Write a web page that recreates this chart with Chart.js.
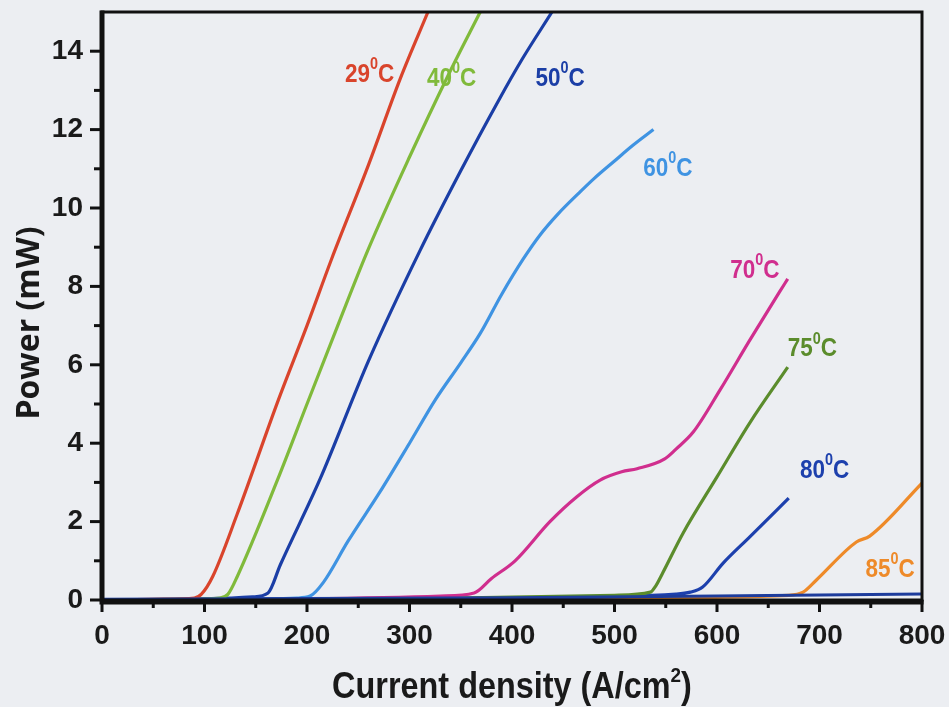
<!DOCTYPE html>
<html>

<head>
    <meta charset="UTF-8">
    <title>Power vs current density</title>
    <script src="https://cdn.jsdelivr.net/npm/chart.js@4.4.1/dist/chart.umd.min.js"></script>
    <style>
        html, body { margin: 0; padding: 0; background: #eceef2; }
    </style>
</head>

<body>
    <canvas id="chart" width="949" height="707"></canvas>
    <script>
        // curves: current density (A/cm2) -> power (mW)
        const x29 = [0, 60, 90, 97, 108, 132, 172, 200, 224, 260, 291, 318];
        const y29 = [0, 0.02, 0.05, 0.15, 0.6, 2.2, 5.1, 7.0, 8.7, 11.1, 13.3, 15.0];
        const x40 = [0, 80, 115, 123, 132, 171, 200, 230, 259, 300, 338, 369];
        const y40 = [0, 0.02, 0.05, 0.15, 0.6, 3.05, 5.0, 7.0, 8.9, 11.3, 13.4, 15.0];
        const x50 = [0, 100, 147, 162, 174, 213, 260, 310, 350, 386, 410, 439];
        const y50 = [0, 0.03, 0.08, 0.18, 0.9, 3.1, 6.1, 8.9, 10.95, 12.7, 13.8, 15.0];
        const x60 = [0, 120, 190, 203, 216, 240, 271, 300, 325, 350, 369, 390, 411, 427, 445, 466, 480, 500, 518, 538];
        const y60 = [0, 0.02, 0.05, 0.1, 0.45, 1.5, 2.75, 4.0, 5.1, 6.05, 6.8, 7.8, 8.7, 9.3, 9.85, 10.4, 10.75, 11.2, 11.6, 12.0];
        const x70 = [0, 200, 330, 363, 380, 403, 437, 463, 486, 507, 522, 549, 560, 577, 603, 632, 661, 669];
        const y70 = [0, 0.03, 0.1, 0.18, 0.55, 1.0, 2.0, 2.63, 3.06, 3.27, 3.35, 3.6, 3.85, 4.29, 5.36, 6.63, 7.86, 8.19];
        const x75 = [0, 300, 500, 535, 540, 547, 567, 600, 632, 669];
        const y75 = [0, 0.03, 0.12, 0.2, 0.35, 0.69, 1.71, 3.14, 4.52, 5.94];
        const x80 = [0, 400, 560, 574, 586, 606, 632, 670];
        const y80 = [0, 0.05, 0.15, 0.2, 0.33, 0.94, 1.61, 2.6];
        const x85 = [0, 500, 670, 684, 697, 736, 749, 800];
        const y85 = [0, 0.05, 0.12, 0.2, 0.51, 1.48, 1.63, 2.98];
        const xBase = [0, 400, 600, 800];
        const yBase = [0.02, 0.06, 0.1, 0.15];

        const temps = ['29', '40', '50', '60', '70', '75', '80', '85'];
        const colors = ['#d9442c', '#80ba3b', '#1b3ea6', '#3f93e2', '#d02e8e', '#5b8c2c', '#1d40ad', '#ee8a29'];
        const labelX = [261, 341, 447, 552, 637, 693, 705, 769];
        const labelY = [13.4, 13.3, 13.3, 11.0, 8.4, 6.4, 3.3, 0.77];

        const xTicks = [0, 100, 200, 300, 400, 500, 600, 700, 800];
        const yTicks = [0, 2, 4, 6, 8, 10, 12, 14];

        function pts(xs, ys) {
            return xs.map((x, i) => ({ x: x, y: ys[i] }));
        }

        const curves = [[x29, y29], [x40, y40], [x50, y50], [x60, y60], [x70, y70], [x75, y75], [x80, y80], [x85, y85]];
        const datasets = [{
            label: 'base',
            data: pts(xBase, yBase),
            borderColor: '#1d3c9c',
            borderWidth: 3,
            pointRadius: 0,
            fill: false
        }];
        curves.forEach((c, i) => {
            datasets.push({
                label: temps[i] + '°C',
                data: pts(c[0], c[1]),
                borderColor: colors[i],
                borderWidth: 3.2,
                pointRadius: 0,
                cubicInterpolationMode: 'monotone',
                fill: false
            });
        });

        const sans = '"Liberation Sans", Arial, sans-serif';

        // write text squeezed sideways, the original uses a narrow face
        function squeezed(ctx, parts, cx, cy, squeeze) {
            let total = 0;
            parts.forEach(p => { ctx.font = p.font; p.w = ctx.measureText(p.text).width; total += p.w; });
            ctx.save();
            ctx.translate(cx, cy);
            ctx.scale(squeeze, 1);
            let x = -total / 2;
            ctx.textAlign = 'left';
            ctx.textBaseline = 'middle';
            parts.forEach(p => {
                ctx.font = p.font;
                ctx.fillText(p.text, x, p.dy || 0);
                x += p.w;
            });
            ctx.restore();
        }

        // background, frame, tick marks and the curve labels
        const decor = {
            id: 'decor',
            beforeDraw(chart) {
                const ctx = chart.ctx;
                ctx.save();
                ctx.fillStyle = '#eceef2';
                ctx.fillRect(0, 0, chart.width, chart.height);
                ctx.restore();
            },
            afterDatasetsDraw(chart) {
                const ctx = chart.ctx;
                const a = chart.chartArea;
                const xs = chart.scales.x, ys = chart.scales.y;

                // labels like 29⁰C
                temps.forEach((t, i) => {
                    ctx.fillStyle = colors[i];
                    squeezed(ctx, [
                        { text: t, font: 'bold 25px ' + sans },
                        { text: '0', font: 'bold 16px ' + sans, dy: -10 },
                        { text: 'C', font: 'bold 25px ' + sans }
                    ], xs.getPixelForValue(labelX[i]), ys.getPixelForValue(labelY[i]), 0.9);
                });

                ctx.save();
                ctx.strokeStyle = '#111';
                ctx.lineCap = 'butt';
                // ticks
                ctx.lineWidth = 3;
                for (let v = 0; v <= 800; v += 50) {
                    const p = xs.getPixelForValue(v);
                    const len = v % 100 === 0 ? 10 : 6;
                    ctx.beginPath();
                    ctx.moveTo(p, a.bottom);
                    ctx.lineTo(p, a.bottom + 2 + len);
                    ctx.stroke();
                }
                for (let v = 0; v <= 14; v += 1) {
                    const p = ys.getPixelForValue(v);
                    const len = v % 2 === 0 ? 10 : 6;
                    ctx.beginPath();
                    ctx.moveTo(a.left, p);
                    ctx.lineTo(a.left - 2 - len, p);
                    ctx.stroke();
                }
                // frame
                ctx.lineWidth = 3;
                ctx.strokeRect(a.left, a.top, a.right - a.left, a.bottom - a.top);
                ctx.lineWidth = 5;
                ctx.beginPath();
                ctx.moveTo(a.left, a.top - 1.5);
                ctx.lineTo(a.left, a.bottom + 2);
                ctx.lineTo(a.right + 1.5, a.bottom + 2);
                ctx.stroke();
                ctx.restore();

                // axis titles
                ctx.fillStyle = '#1a1a1a';
                squeezed(ctx, [
                    { text: 'Current density (A/cm', font: 'bold 36px ' + sans },
                    { text: '2', font: 'bold 21px ' + sans, dy: -12 },
                    { text: ')', font: 'bold 36px ' + sans }
                ], (a.left + a.right) / 2, 688, 0.9);

                ctx.save();
                ctx.translate(30, 323);
                ctx.rotate(-Math.PI / 2);
                ctx.textAlign = 'center';
                ctx.textBaseline = 'middle';
                ctx.font = 'bold 32px "Open Sans", sans-serif';
                ctx.fillText('Power (mW)', 0, 0);
                ctx.restore();
            }
        };

        const ctx = document.getElementById('chart').getContext('2d');
        const chart = new Chart(ctx, {
            type: 'line',
            data: { datasets: datasets },
            options: {
                responsive: false,
                animation: false,
                layout: { padding: { left: 0, right: 27, top: 12, bottom: 0 } },
                plugins: {
                    legend: { display: false },
                    tooltip: { enabled: false }
                },
                scales: {
                    x: {
                        type: 'linear',
                        min: 0,
                        max: 800,
                        afterFit: (s) => { s.height = 107; s.paddingLeft = 0; s.paddingRight = 0; },
                        afterBuildTicks: (s) => { s.ticks = xTicks.map(v => ({ value: v })); },
                        grid: { display: true, drawOnChartArea: false, drawTicks: false, color: 'rgba(0,0,0,0)' },
                        border: { display: false },
                        ticks: {
                            autoSkip: false,
                            maxRotation: 0,
                            padding: 19,
                            color: '#1a1a1a',
                            font: { family: sans, size: 28, weight: 'bold' }
                        }
                    },
                    y: {
                        type: 'linear',
                        min: 0,
                        max: 15,
                        afterFit: (s) => { s.width = 102; s.paddingTop = 0; s.paddingBottom = 0; },
                        afterBuildTicks: (s) => { s.ticks = yTicks.map(v => ({ value: v })); },
                        grid: { display: true, drawOnChartArea: false, drawTicks: false, color: 'rgba(0,0,0,0)' },
                        border: { display: false },
                        ticks: {
                            autoSkip: false,
                            padding: 19,
                            color: '#1a1a1a',
                            font: { family: sans, size: 28, weight: 'bold' }
                        }
                    }
                }
            },
            plugins: [decor]
        });
    </script>
</body>

</html>
